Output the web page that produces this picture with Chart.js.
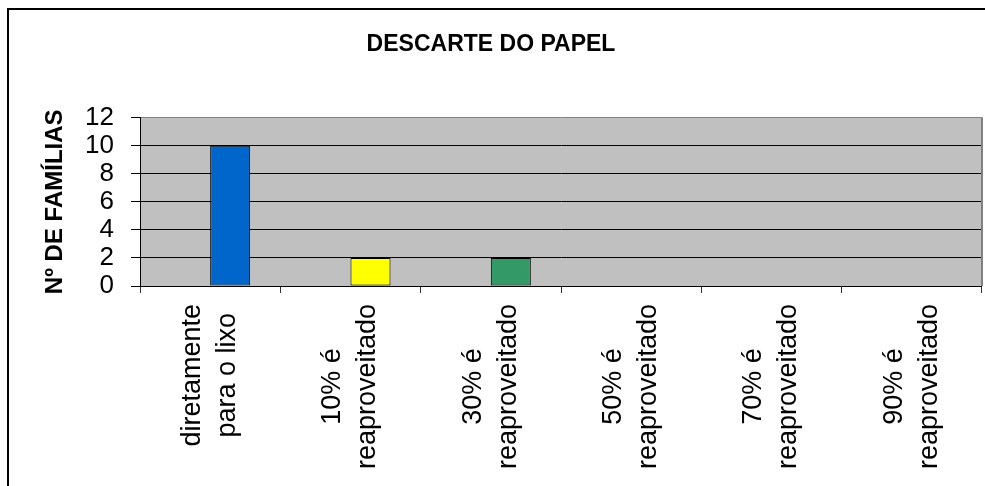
<!DOCTYPE html>
<html><head><meta charset="utf-8">
<script src="https://cdn.jsdelivr.net/npm/chart.js@4"></script>
<style>html,body{margin:0;padding:0;background:#fff;}#wrap{width:985px;height:486px;}</style>
</head><body><div id="wrap"><canvas id="c" width="985" height="486"></canvas></div>
<script>
const categorias = [
  ['diretamente', 'para o lixo'],
  ['10% é', 'reaproveitado'],
  ['30% é', 'reaproveitado'],
  ['50% é', 'reaproveitado'],
  ['70% é', 'reaproveitado'],
  ['90% é', 'reaproveitado']
];
const familias = [10, 2, 2, 0, 0, 0];
const serieVazia = [null, null, null, null, null, null];
const coresBarras = ['#0066CC', '#FFFF00', '#339966', '#0066CC', '#FFFF00', '#339966'];
const yTicks = [0, 2, 4, 6, 8, 10, 12];
const tituloGrafico = 'DESCARTE DO PAPEL';
const tituloEixoY = 'Nº DE FAMÍLIAS';

const FONT = 'Liberation Sans, Arial, sans-serif';

const fundoPlugin = {
  id: 'fundo',
  beforeDraw(chart) {
    const ctx = chart.ctx, a = chart.chartArea;
    ctx.save();
    ctx.fillStyle = '#fff';
    ctx.fillRect(0, 0, chart.width, chart.height);
    ctx.strokeStyle = '#000';
    ctx.lineWidth = 2;
    ctx.strokeRect(8, 9, 1200, 1200);
    ctx.fillStyle = '#C0C0C0';
    ctx.fillRect(a.left, a.top, a.right - a.left, a.bottom - a.top);
    ctx.restore();
  },
  beforeDatasetsDraw(chart) {
    const ctx = chart.ctx, a = chart.chartArea;
    ctx.save();
    ctx.strokeStyle = '#808080';
    ctx.lineWidth = 2;
    ctx.beginPath();
    ctx.moveTo(a.right, a.top);
    ctx.lineTo(a.right, a.bottom);
    ctx.stroke();
    ctx.restore();
  }
};

const rotulosPlugin = {
  id: 'rotulos',
  afterDraw(chart) {
    const ctx = chart.ctx, xs = chart.scales.x, a = chart.chartArea;
    ctx.save();
    ctx.font = '27px ' + FONT;
    ctx.fillStyle = '#000';
    ctx.textAlign = 'center';
    ctx.textBaseline = 'middle';
    const pitch = 35;
    categorias.forEach((linhas, i) => {
      const cx = xs.getPixelForValue(i);
      const w = Math.max(...linhas.map(l => ctx.measureText(l).width));
      const cy = a.bottom + 18 + w / 2;
      const n = linhas.length;
      linhas.forEach((l, j) => {
        const off = (j - (n - 1) / 2) * pitch;
        ctx.save();
        ctx.translate(cx + off, cy);
        ctx.rotate(-Math.PI / 2);
        ctx.fillText(l, 0, 0);
        ctx.restore();
      });
    });
    ctx.restore();
  }
};

new Chart(document.getElementById('c'), {
  type: 'bar',
  data: {
    labels: categorias,
    datasets: [
      { data: serieVazia, backgroundColor: '#9999FF', borderColor: '#000', borderWidth: 1 },
      { data: familias, backgroundColor: coresBarras, borderColor: '#000', borderWidth: 1, borderSkipped: false }
    ]
  },
  options: {
    responsive: false,
    animation: false,
    devicePixelRatio: 1,
    categoryPercentage: 0.5701,
    barPercentage: 1,
    layout: { padding: { left: 0, right: 3, top: 0, bottom: 0 } },
    plugins: {
      legend: { display: false },
      tooltip: { enabled: false },
      title: {
        display: true,
        text: tituloGrafico,
        color: '#000',
        font: { family: FONT, size: 23, weight: 'bold' },
        padding: { top: 31, bottom: 59 }
      }
    },
    scales: {
      x: {
        type: 'category',
        ticks: { display: false },
        grid: { offset: true, drawOnChartArea: false, drawTicks: true, tickLength: 7, color: '#333' },
        border: { display: false },
        afterFit(s) { s.height = 200; }
      },
      y: {
        min: 0,
        max: 12,
        afterBuildTicks(s) { s.ticks = yTicks.map(v => ({ value: v })); },
        ticks: { color: '#000', font: { family: FONT, size: 26 }, padding: 17, autoSkip: false },
        grid: {
          color: c => (c.tick && c.tick.value === 12) ? '#808080' : '#000',
          tickColor: '#000',
          tickLength: 9,
          lineWidth: 1
        },
        border: { display: true, color: '#000', width: 1 },
        title: {
          display: true,
          text: tituloEixoY,
          color: '#000',
          font: { family: FONT, size: 24, weight: 'bold' },
          padding: { top: 41, bottom: 0 }
        },
        afterFit(s) { s.width = 140; }
      }
    }
  },
  plugins: [fundoPlugin, rotulosPlugin]
});
</script>
</body></html>
